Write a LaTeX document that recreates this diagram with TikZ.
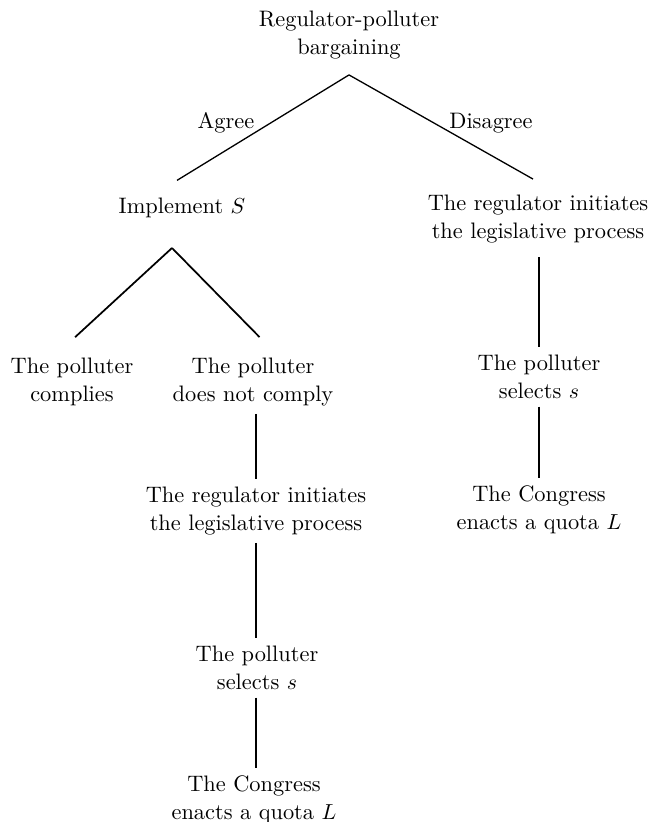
\documentclass[tikz,border=0pt]{standalone}
\begin{document}
\begin{tikzpicture}[x=0.46pt, y=-0.46pt, every node/.style={align=center, font=\fontsize{10.3}{13}\selectfont}]
        \useasboundingbox (0,0) rectangle (652,822);
        % nodes
        \node(root) at (349, 35) {Regulator-polluter\\bargaining};
        \node(agree) at (226, 123) {Agree};
        \node(disagree) at (491, 123) {Disagree};
        \node(impl) at (182, 208) {Implement $S$};
        \node(regR) at (538, 219) {The regulator initiates\\the legislative process};
        \node(comp) at (72, 382) {The polluter\\complies};
        \node(ncomp) at (253, 382) {The polluter\\does not comply};
        \node(regL) at (256, 511) {The regulator initiates\\the legislative process};
        \node(selL) at (257, 668) {The polluter\\selects $s$};
        \node(congL) at (254, 800) {The Congress\\enacts a quota $L$};
        \node(selR) at (539, 377) {The polluter\\selects $s$};
        \node(congR) at (539, 510) {The Congress\\enacts a quota $L$};

        \coordinate(fork) at (172, 248);

        %edges
        \draw[semithick] ([yshift=-3.7pt]root.south) -- ([xshift=-2.3pt,yshift=4.6pt]impl.north);
        \draw[semithick] ([yshift=-3.7pt]root.south) -- ([xshift=-2.3pt,yshift=3.7pt]regR.north);
        \draw[thick] (fork) -- ([xshift=1.4pt,yshift=6pt]comp.north);
        \draw[thick] (fork) -- ([xshift=3pt,yshift=6pt]ncomp.north);
        \draw[semithick] (regL.north |- ncomp.south) -- (regL.north);
        \draw[semithick] (regL.south) -- (regL.south |- selL.north);
        \draw[semithick] (regL.south |- selL.south) -- (regL.south |- congL.north);
        \draw[semithick] ([yshift=-3pt]regR.south -| selR.north) -- (selR.north);
        \draw[semithick] (selR.south) -- (selR.south |- congR.north);

    \end{tikzpicture}
\end{document}
